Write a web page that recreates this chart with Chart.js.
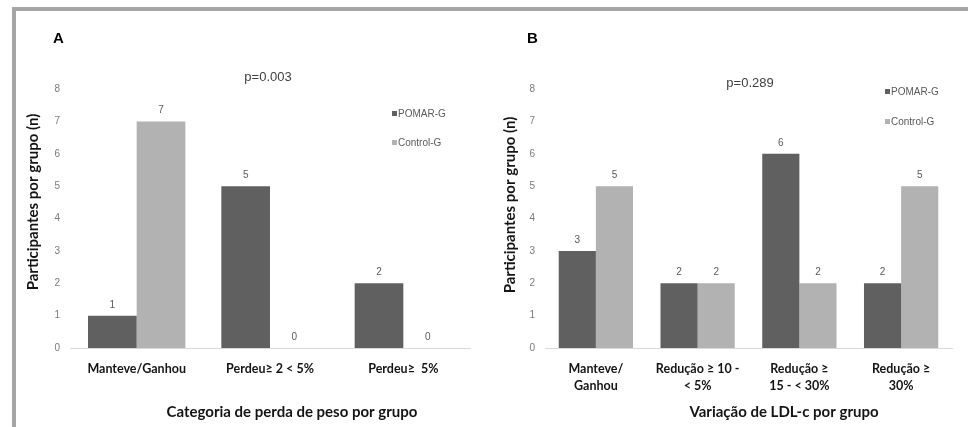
<!DOCTYPE html>
<html>
<head>
<meta charset="utf-8">
<script src="https://cdn.jsdelivr.net/npm/chart.js@4"></script>
<style>
  html, body { margin: 0; padding: 0; background: #ffffff; }
  body { width: 968px; height: 427px; position: relative; overflow: hidden; }
  .frame { position: absolute; left: 12px; top: 7px; width: 960px; height: 424px;
           border-top: 4px solid #a6a6a6; border-left: 4px solid #a6a6a6; box-sizing: border-box; }
  .panel { position: absolute; top: 0; width: 484px; height: 427px; }
  #wa { left: 0; }
  #wb { left: 484px; }
</style>
</head>
<body>
<div class="frame"></div>
<div class="panel" id="wa"><canvas id="ca" width="484" height="427"></canvas></div>
<div class="panel" id="wb"><canvas id="cb" width="484" height="427"></canvas></div>
<script>
// ---- data ----
const seriesNames = ['POMAR-G', 'Control-G'];
const categoriesA = ['Manteve/Ganhou', 'Perdeu≥ 2 < 5%', 'Perdeu≥  5%'];
const pomarA = [1, 5, 2];
const controlA = [7, 0, 0];
const categoriesB = [['Manteve/', 'Ganhou'], ['Redução ≥ 10 -', '< 5%'], ['Redução ≥', '15 - < 30%'], ['Redução ≥', '30%']];
const pomarB = [3, 2, 6, 2];
const controlB = [5, 2, 2, 5];
const yMin = 0, yMax = 8, yStep = 1;
const panelLetters = ['A', 'B'];
const pValues = ['p=0.003', 'p=0.289'];
const yTitle = 'Participantes por grupo (n)';
const xTitles = ['Categoria de perda de peso por grupo', 'Variação de LDL-c por grupo'];

const colors = ['#606060', '#b2b2b2'];
const TICK_FONT = '10px "Liberation Sans", Arial, sans-serif';

function makePlugin(cfg) {
  return {
    id: 'annot' + cfg.letter,
    afterDatasetsDraw(chart) {
      const ctx = chart.ctx;
      ctx.save();
      // value labels above bars
      ctx.font = TICK_FONT;
      ctx.fillStyle = '#595959';
      ctx.textAlign = 'center';
      ctx.textBaseline = 'alphabetic';
      chart.data.datasets.forEach((ds, i) => {
        const meta = chart.getDatasetMeta(i);
        meta.data.forEach((bar, j) => {
          ctx.fillText(String(ds.data[j]), bar.x, bar.y - 8);
        });
      });
      // panel letter
      ctx.font = 'bold 15px "Liberation Sans", Arial, sans-serif';
      ctx.fillStyle = '#000000';
      ctx.textAlign = 'left';
      ctx.fillText(cfg.letter, cfg.letterX, 43);
      // p value
      ctx.font = '13px "Liberation Sans", Arial, sans-serif';
      ctx.fillStyle = '#404040';
      ctx.textAlign = 'center';
      ctx.textBaseline = 'middle';
      ctx.fillText(cfg.p, cfg.pX, cfg.pY);
      // legend
      ctx.font = TICK_FONT;
      ctx.textAlign = 'left';
      chart.data.datasets.forEach((ds, i) => {
        const y = cfg.legY + i * cfg.legGap;
        ctx.fillStyle = ds.backgroundColor;
        ctx.fillRect(cfg.legX, y - 3, 5, 5);
        ctx.fillStyle = '#595959';
        ctx.fillText(ds.label, cfg.legX + 6, y);
      });
      // axis titles
      ctx.fillStyle = '#141414';
      ctx.font = 'bold 15px Lato, "Open Sans", sans-serif';
      ctx.textAlign = 'center';
      ctx.fillText(cfg.xTitle, cfg.xTitleX, 412);
      ctx.save();
      ctx.translate(cfg.yTitleX, cfg.yTitleY);
      ctx.rotate(-Math.PI / 2);
      ctx.font = 'bold 15px Lato, "Open Sans", sans-serif';
      ctx.fillText(yTitle, 0, 0);
      ctx.restore();
      ctx.restore();
    }
  };
}

function makeChart(id, cats, pomar, control, rightPad, yWidth, cfg) {
  return new Chart(document.getElementById(id), {
    type: 'bar',
    data: {
      labels: cats,
      datasets: [
        { label: seriesNames[0], data: pomar, backgroundColor: colors[0], borderWidth: 0 },
        { label: seriesNames[1], data: control, backgroundColor: colors[1], borderWidth: 0 }
      ]
    },
    options: {
      responsive: false,
      animation: false,
      devicePixelRatio: 1,
      layout: { padding: { top: 89, right: rightPad, bottom: 0, left: 0 } },
      datasets: { bar: { categoryPercentage: 0.73, barPercentage: 1.0 } },
      plugins: { legend: { display: false }, title: { display: false }, tooltip: { enabled: false } },
      scales: {
        x: {
          grid: { display: false, drawTicks: false },
          border: { display: true, color: '#d9d9d9', width: 1 },
          ticks: { font: { family: 'Lato, "Open Sans", sans-serif', size: 12.5, weight: 'bold', lineHeight: 1.4 },
                   color: '#141414', padding: 12, maxRotation: 0, autoSkip: false },
          afterFit(s) { s.height = 79; }
        },
        y: {
          min: yMin, max: yMax,
          grid: { display: false, drawTicks: false },
          border: { display: false },
          ticks: { stepSize: yStep, font: { family: '"Liberation Sans", Arial, sans-serif', size: 10 },
                   color: '#7a7a7a', padding: 10 },
          afterFit(s) { s.width = yWidth; }
        }
      }
    },
    plugins: [makePlugin(cfg)]
  });
}

makeChart('ca', categoriesA, pomarA, controlA, 14, 70, {
  letter: panelLetters[0], letterX: 53, p: pValues[0], pX: 268, pY: 77,
  legX: 392, legY: 114, legGap: 29, xTitle: xTitles[0], xTitleX: 292,
  yTitleX: 33, yTitleY: 202
});
makeChart('cb', categoriesB, pomarB, controlB, 16, 61, {
  letter: panelLetters[1], letterX: 43, p: pValues[1], pX: 266, pY: 83,
  legX: 401, legY: 92, legGap: 30, xTitle: xTitles[1], xTitleX: 300,
  yTitleX: 26, yTitleY: 205
});
</script>
</body>
</html>
